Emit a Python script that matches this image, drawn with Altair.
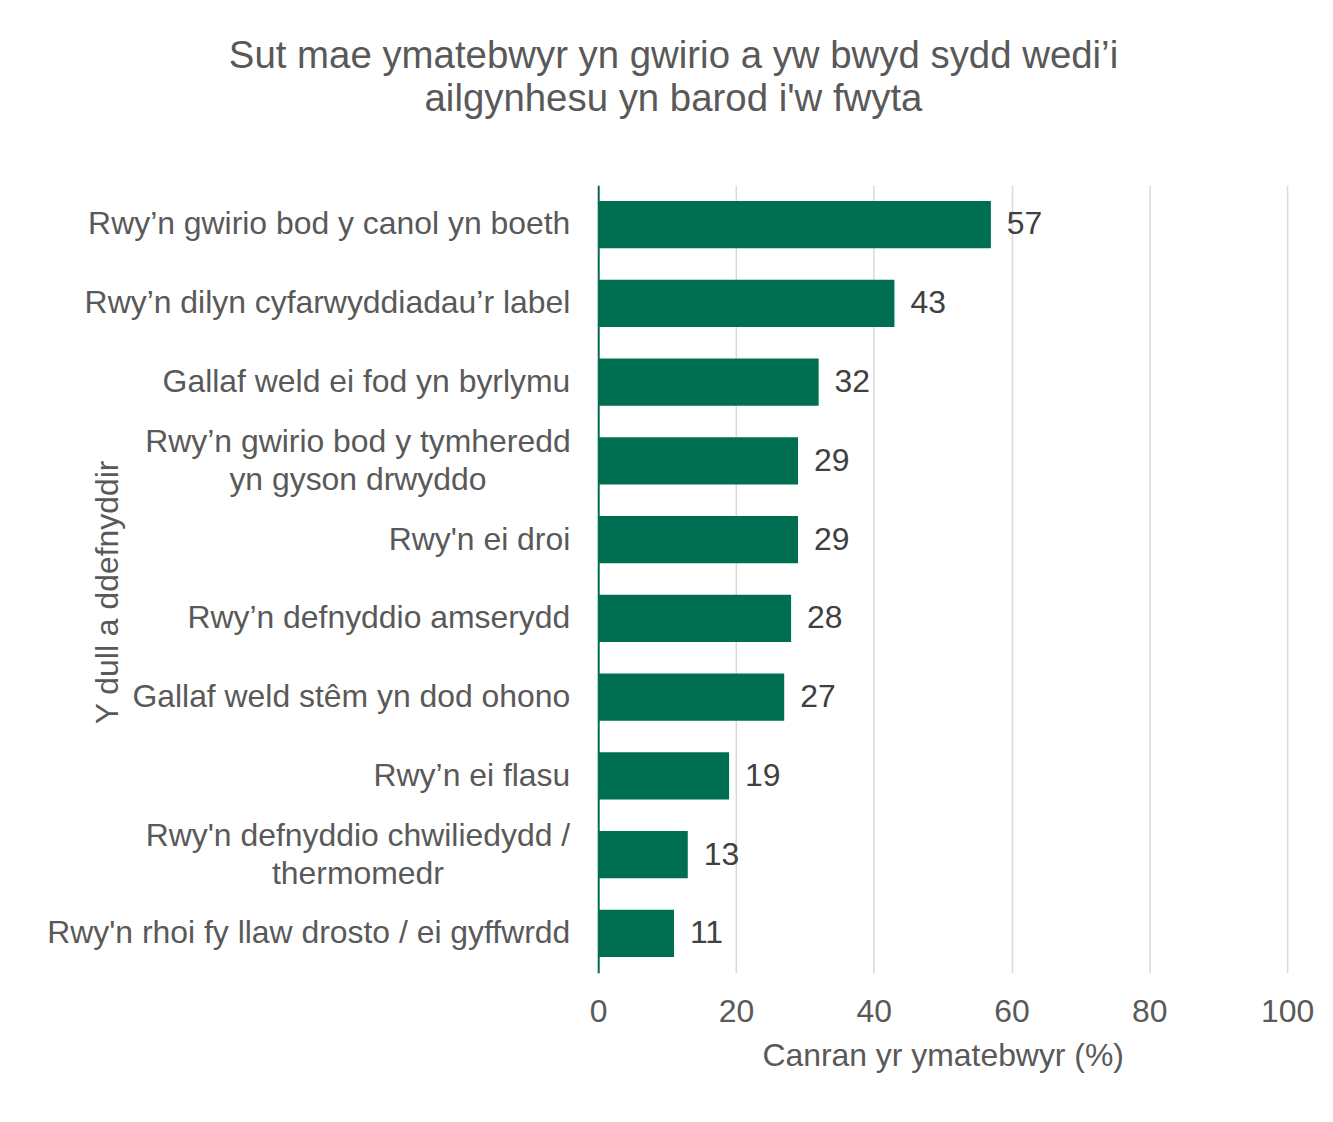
import altair as alt
import pandas as pd

categories = [
    "Rwy’n gwirio bod y canol yn boeth",
    "Rwy’n dilyn cyfarwyddiadau’r label",
    "Gallaf weld ei fod yn byrlymu",
    "Rwy’n gwirio bod y tymheredd\nyn gyson drwyddo",
    "Rwy'n ei droi",
    "Rwy’n defnyddio amserydd",
    "Gallaf weld stêm yn dod ohono",
    "Rwy’n ei flasu",
    "Rwy'n defnyddio chwiliedydd /\nthermomedr",
    "Rwy'n rhoi fy llaw drosto / ei gyffwrdd",
]
values = [57, 43, 32, 29, 29, 28, 27, 19, 13, 11]
x_ticks = [0, 20, 40, 60, 80, 100]

title_lines = ["Sut mae ymatebwyr yn gwirio a yw bwyd sydd wedi’i", "ailgynhesu yn barod i'w fwyta"]
x_title = "Canran yr ymatebwyr (%)"
y_title = "Y dull a ddefnyddir"

FONT = "Liberation Sans"
GREEN = "#006F51"
FS = 32

df = pd.DataFrame({
    "cat": categories,
    "val": values,
    "multi": ["\n" in c for c in categories],
})

y_enc = alt.Y(
    "cat:N",
    sort=categories,
    scale=alt.Scale(paddingInner=0.4, paddingOuter=0.2),
    axis=alt.Axis(
        labels=False, ticks=False, tickSize=0, grid=False,
        domainColor=GREEN, domainWidth=2,
        title=y_title, titleFont=FONT, titleFontSize=FS, titleFontWeight="normal",
        titleColor="#595959", titleX=-492, titleY=408, titleAngle=270,
        titleAlign="center", titleBaseline="middle",
    ),
)

x_enc = alt.X(
    "val:Q",
    scale=alt.Scale(domain=[0, 100], nice=False),
    axis=alt.Axis(
        values=x_ticks, ticks=False, tickSize=0, domain=False, labelFlush=False,
        grid=True, gridColor="#D9D9D9", gridWidth=1.5,
        labelFont=FONT, labelFontSize=FS, labelColor="#595959", labelPadding=24,
        title=x_title, titleFont=FONT, titleFontSize=FS, titleFontWeight="normal",
        titleColor="#595959", titleY=83, titleBaseline="middle",
    ),
)

base = alt.Chart(df)

bars = base.mark_bar(color=GREEN).encode(y=y_enc, x=x_enc)

values_text = base.mark_text(
    align="left", baseline="middle", dx=16, font=FONT, fontSize=FS, color="#404040"
).encode(y=alt.Y("cat:N", sort=categories), x=alt.X("val:Q"), text=alt.Text("val:Q"))

single_labels = base.transform_filter("!datum.multi").mark_text(
    align="right", baseline="middle", dx=-28, font=FONT, fontSize=FS, color="#595959"
).encode(y=alt.Y("cat:N", sort=categories), x=alt.value(0), text="cat:N")

multi_labels = base.transform_filter("datum.multi").mark_text(
    align="center", baseline="middle", dx=-241, dy=-19, font=FONT, fontSize=FS, color="#595959",
    lineBreak="\n", lineHeight=38,
).encode(y=alt.Y("cat:N", sort=categories), x=alt.value(0), text="cat:N")

chart = alt.layer(bars, values_text, single_labels, multi_labels).properties(
    width=691,
    height=790,
    padding={"left": 592, "top": 176, "right": 38, "bottom": 140},
    autosize=alt.AutoSizeParams(type="none"),
    title=alt.TitleParams(
        text=title_lines, anchor="middle", frame="group", dx=-270,
        font=FONT, fontSize=38.5, fontWeight="normal", color="#595959",
        lineHeight=43, offset=66,
    ),
).configure_view(stroke=None)

chart.save("out.html", embed_options={"renderer": "svg", "actions": False})
